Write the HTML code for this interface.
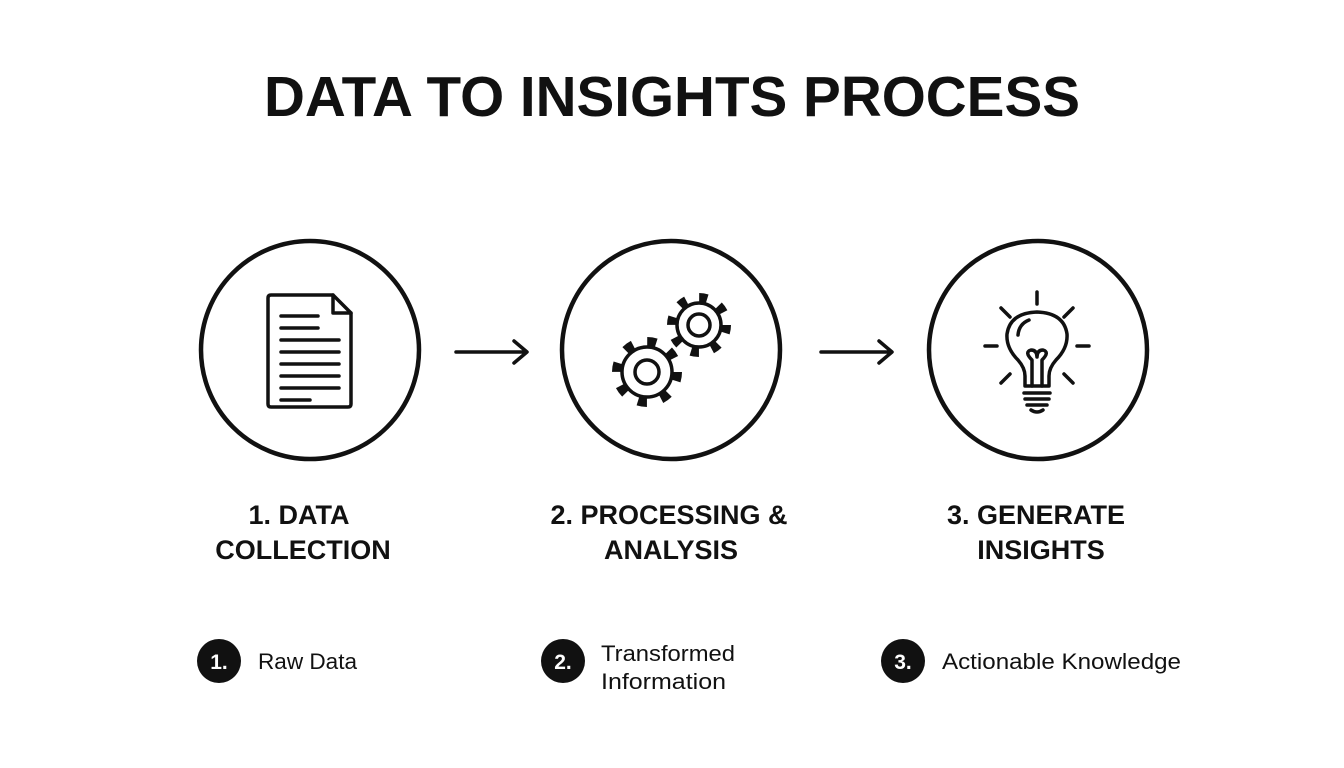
<!DOCTYPE html>
<html><head><meta charset="utf-8"><style>
body{margin:0;background:#fff;width:1344px;height:768px;overflow:hidden}
svg{display:block}
text{font-family:"Liberation Sans",sans-serif;fill:#111}
</style></head><body>
<svg width="1344" height="768" viewBox="0 0 1344 768">
<text x="672" y="116" text-anchor="middle" font-size="57" font-weight="bold" textLength="816" lengthAdjust="spacingAndGlyphs">DATA TO INSIGHTS PROCESS</text>
<g fill="none" stroke="#111" stroke-width="4.5">
<circle cx="310" cy="350" r="109"/>
<circle cx="671" cy="350" r="109"/>
<circle cx="1038" cy="350" r="109"/>
</g>
<g fill="none" stroke="#111" stroke-width="3.5" stroke-linecap="round" stroke-linejoin="round">
<path d="M456 352H526M514 341L527 352L514 363"/>
<path d="M821 352H891M879 341L892 352L879 363"/>
<path d="M271 295H333L351 313V404Q351 407 348 407H271Q268 407 268 404V298Q268 295 271 295Z"/>
<path d="M333 295V313H351"/>
</g>
<g stroke="#111" stroke-width="3.5" stroke-linecap="round">
<path d="M281 316H318M281 328H318M281 340H339M281 352H339M281 364H339M281 376H339M281 388H339M281 400H310"/>
</g>
<!-- gears -->
<g fill="none">
<circle cx="647" cy="372" r="30" stroke="#111" stroke-width="10" stroke-dasharray="9 14.56"/>
<circle cx="647" cy="372" r="25" fill="#fff" stroke="#111" stroke-width="3.5"/>
<circle cx="647" cy="372" r="12" stroke="#111" stroke-width="3.5"/>
<circle cx="699" cy="325" r="27" stroke="#111" stroke-width="10" stroke-dasharray="8 13.2"/>
<circle cx="699" cy="325" r="22" fill="#fff" stroke="#111" stroke-width="3.5"/>
<circle cx="699" cy="325" r="11" stroke="#111" stroke-width="3.5"/>
</g>
<!-- bulb -->
<g fill="none" stroke="#111" stroke-width="3.5" stroke-linecap="round" stroke-linejoin="round">
<path d="M1037 292V304M1001 308L1010 317M1073 308L1064 317M985 346H997M1077 346H1089M1001 383L1010 374M1073 383L1064 374"/>
<path d="M1025 386V376Q1025 368 1018 360Q1006 348 1007 334Q1010 313 1037 312Q1064 313 1067 334Q1068 348 1056 360Q1049 368 1049 376V386Z"/>
<path d="M1018 335Q1019 324 1029 320"/>
<path d="M1032 386V360Q1024 352 1031 350Q1037 350 1037 357Q1037 350 1043 350Q1050 352 1042 360V386"/>
<path d="M1024 393H1050M1025 399H1049M1027 405H1047M1031 410Q1037 414 1043 410"/>
</g>
<g font-size="27" font-weight="bold" text-anchor="middle">
<text x="299" y="524">1. DATA</text>
<text x="303" y="559">COLLECTION</text>
<text x="669" y="524">2. PROCESSING &amp;</text>
<text x="671" y="559">ANALYSIS</text>
<text x="1036" y="524">3. GENERATE</text>
<text x="1041" y="559">INSIGHTS</text>
</g>
<circle cx="219" cy="661" r="22" fill="#111"/>
<circle cx="563" cy="661" r="22" fill="#111"/>
<circle cx="903" cy="661" r="22" fill="#111"/>
<g font-size="21" font-weight="bold" text-anchor="middle">
<text x="219" y="669" style="fill:#fff">1.</text>
<text x="563" y="669" style="fill:#fff">2.</text>
<text x="903" y="669" style="fill:#fff">3.</text>
</g>
<g font-size="22">
<text x="258" y="669" textLength="99" lengthAdjust="spacingAndGlyphs">Raw Data</text>
<text x="601" y="661" textLength="134" lengthAdjust="spacingAndGlyphs">Transformed</text>
<text x="601" y="689" textLength="125" lengthAdjust="spacingAndGlyphs">Information</text>
<text x="942" y="669" textLength="239" lengthAdjust="spacingAndGlyphs">Actionable Knowledge</text>
</g>
</svg>
</body></html>
